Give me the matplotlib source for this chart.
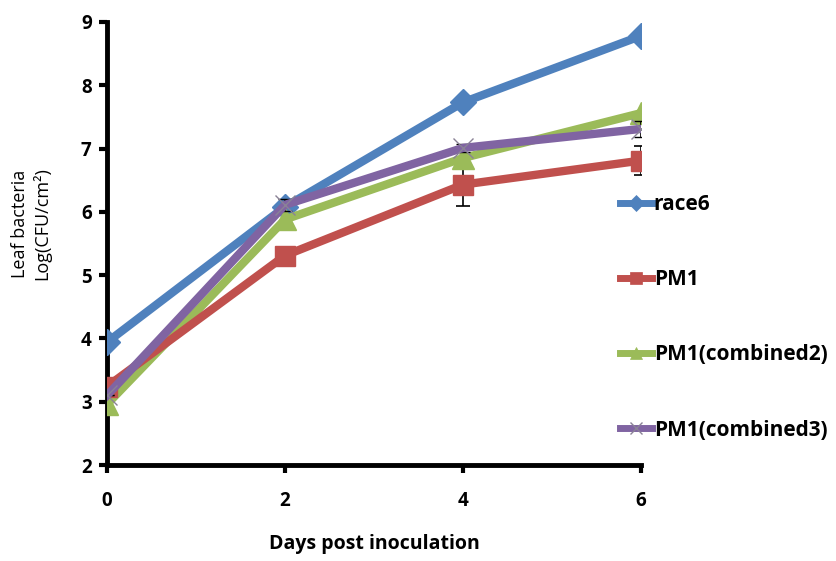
import matplotlib
matplotlib.use("Agg")
import matplotlib.pyplot as plt
from matplotlib.lines import Line2D

# Data
days = [0, 2, 4, 6]
race6 = [3.94, 6.08, 7.73, 8.78]
pm1 = [3.24, 5.31, 6.43, 6.81]
pm1_comb2 = [2.96, 5.88, 6.85, 7.56]
pm1_comb3 = [3.10, 6.11, 7.01, 7.31]
pm1_err = [0.0, 0.0, 0.34, 0.23]
pm1_comb3_err = [0.0, 0.10, 0.06, 0.13]

labels = ["race6", "PM1", "PM1(combined2)", "PM1(combined3)"]
colors = ["#4F81BD", "#C0504D", "#9BBB59", "#8064A2"]
markers = ["D", "s", "^", "x"]

plt.rcParams["font.family"] = ["Open Sans", "DejaVu Sans"]

fig = plt.figure(figsize=(8.36, 5.61), dpi=100)
ax = fig.add_axes([0.128, 0.171, 0.639, 0.790])

lw = 6
ax.plot(days, race6, color=colors[0], lw=lw, marker="D", ms=13, zorder=3)
ax.errorbar(days, pm1, yerr=pm1_err, color=colors[1], lw=lw, marker="s",
            ms=15, ecolor="black", elinewidth=1.2, capsize=5, capthick=1.2,
            zorder=3)
ax.plot(days, pm1_comb2, color=colors[2], lw=lw, marker="^", ms=16, zorder=3)
ax.errorbar(days, pm1_comb3, yerr=pm1_comb3_err, color=colors[3], lw=lw,
            marker="x", ms=15, mew=1, mec="#8a8296", ecolor="black",
            elinewidth=1.2, capsize=5, capthick=1.2, zorder=4)

ax.set_xlim(0, 6)
ax.set_ylim(2, 9)
ax.set_xticks([0, 2, 4, 6])
ax.set_yticks(range(2, 10))

for s in ["top", "right"]:
    ax.spines[s].set_visible(False)
for s in ["left", "bottom"]:
    ax.spines[s].set_linewidth(3.5)
    ax.spines[s].set_color("black")
ax.tick_params(axis="both", width=3, length=6, direction="out", labelsize=13.5)
ax.tick_params(axis="x", pad=13)
ax.tick_params(axis="y", pad=5)
for t in ax.get_xticklabels() + ax.get_yticklabels():
    t.set_fontweight("bold")

ax.set_xlabel("Days post inoculation", fontsize=14, fontweight="bold", labelpad=16)
ax.set_ylabel("Leaf bacteria\nLog(CFU/cm²)", fontsize=13)
ax.yaxis.set_label_coords(-0.105, 0.545)

handles = [Line2D([], [], color=c, lw=5, marker=m, ms=8,
                  mew=1 if m == "x" else 0.5, mec="#8a8296" if m == "x" else c)
           for c, m in zip(colors, markers)]
leg = fig.legend(handles, labels, loc="upper left",
                 bbox_to_anchor=(0.742, 1 - 194 / 561),
                 frameon=False, fontsize=15, handlelength=1.5, handletextpad=0.1,
                 labelspacing=2.6, borderaxespad=0, borderpad=0)
for t in leg.get_texts():
    t.set_fontweight("bold")

fig.savefig("out.png", dpi=100)
